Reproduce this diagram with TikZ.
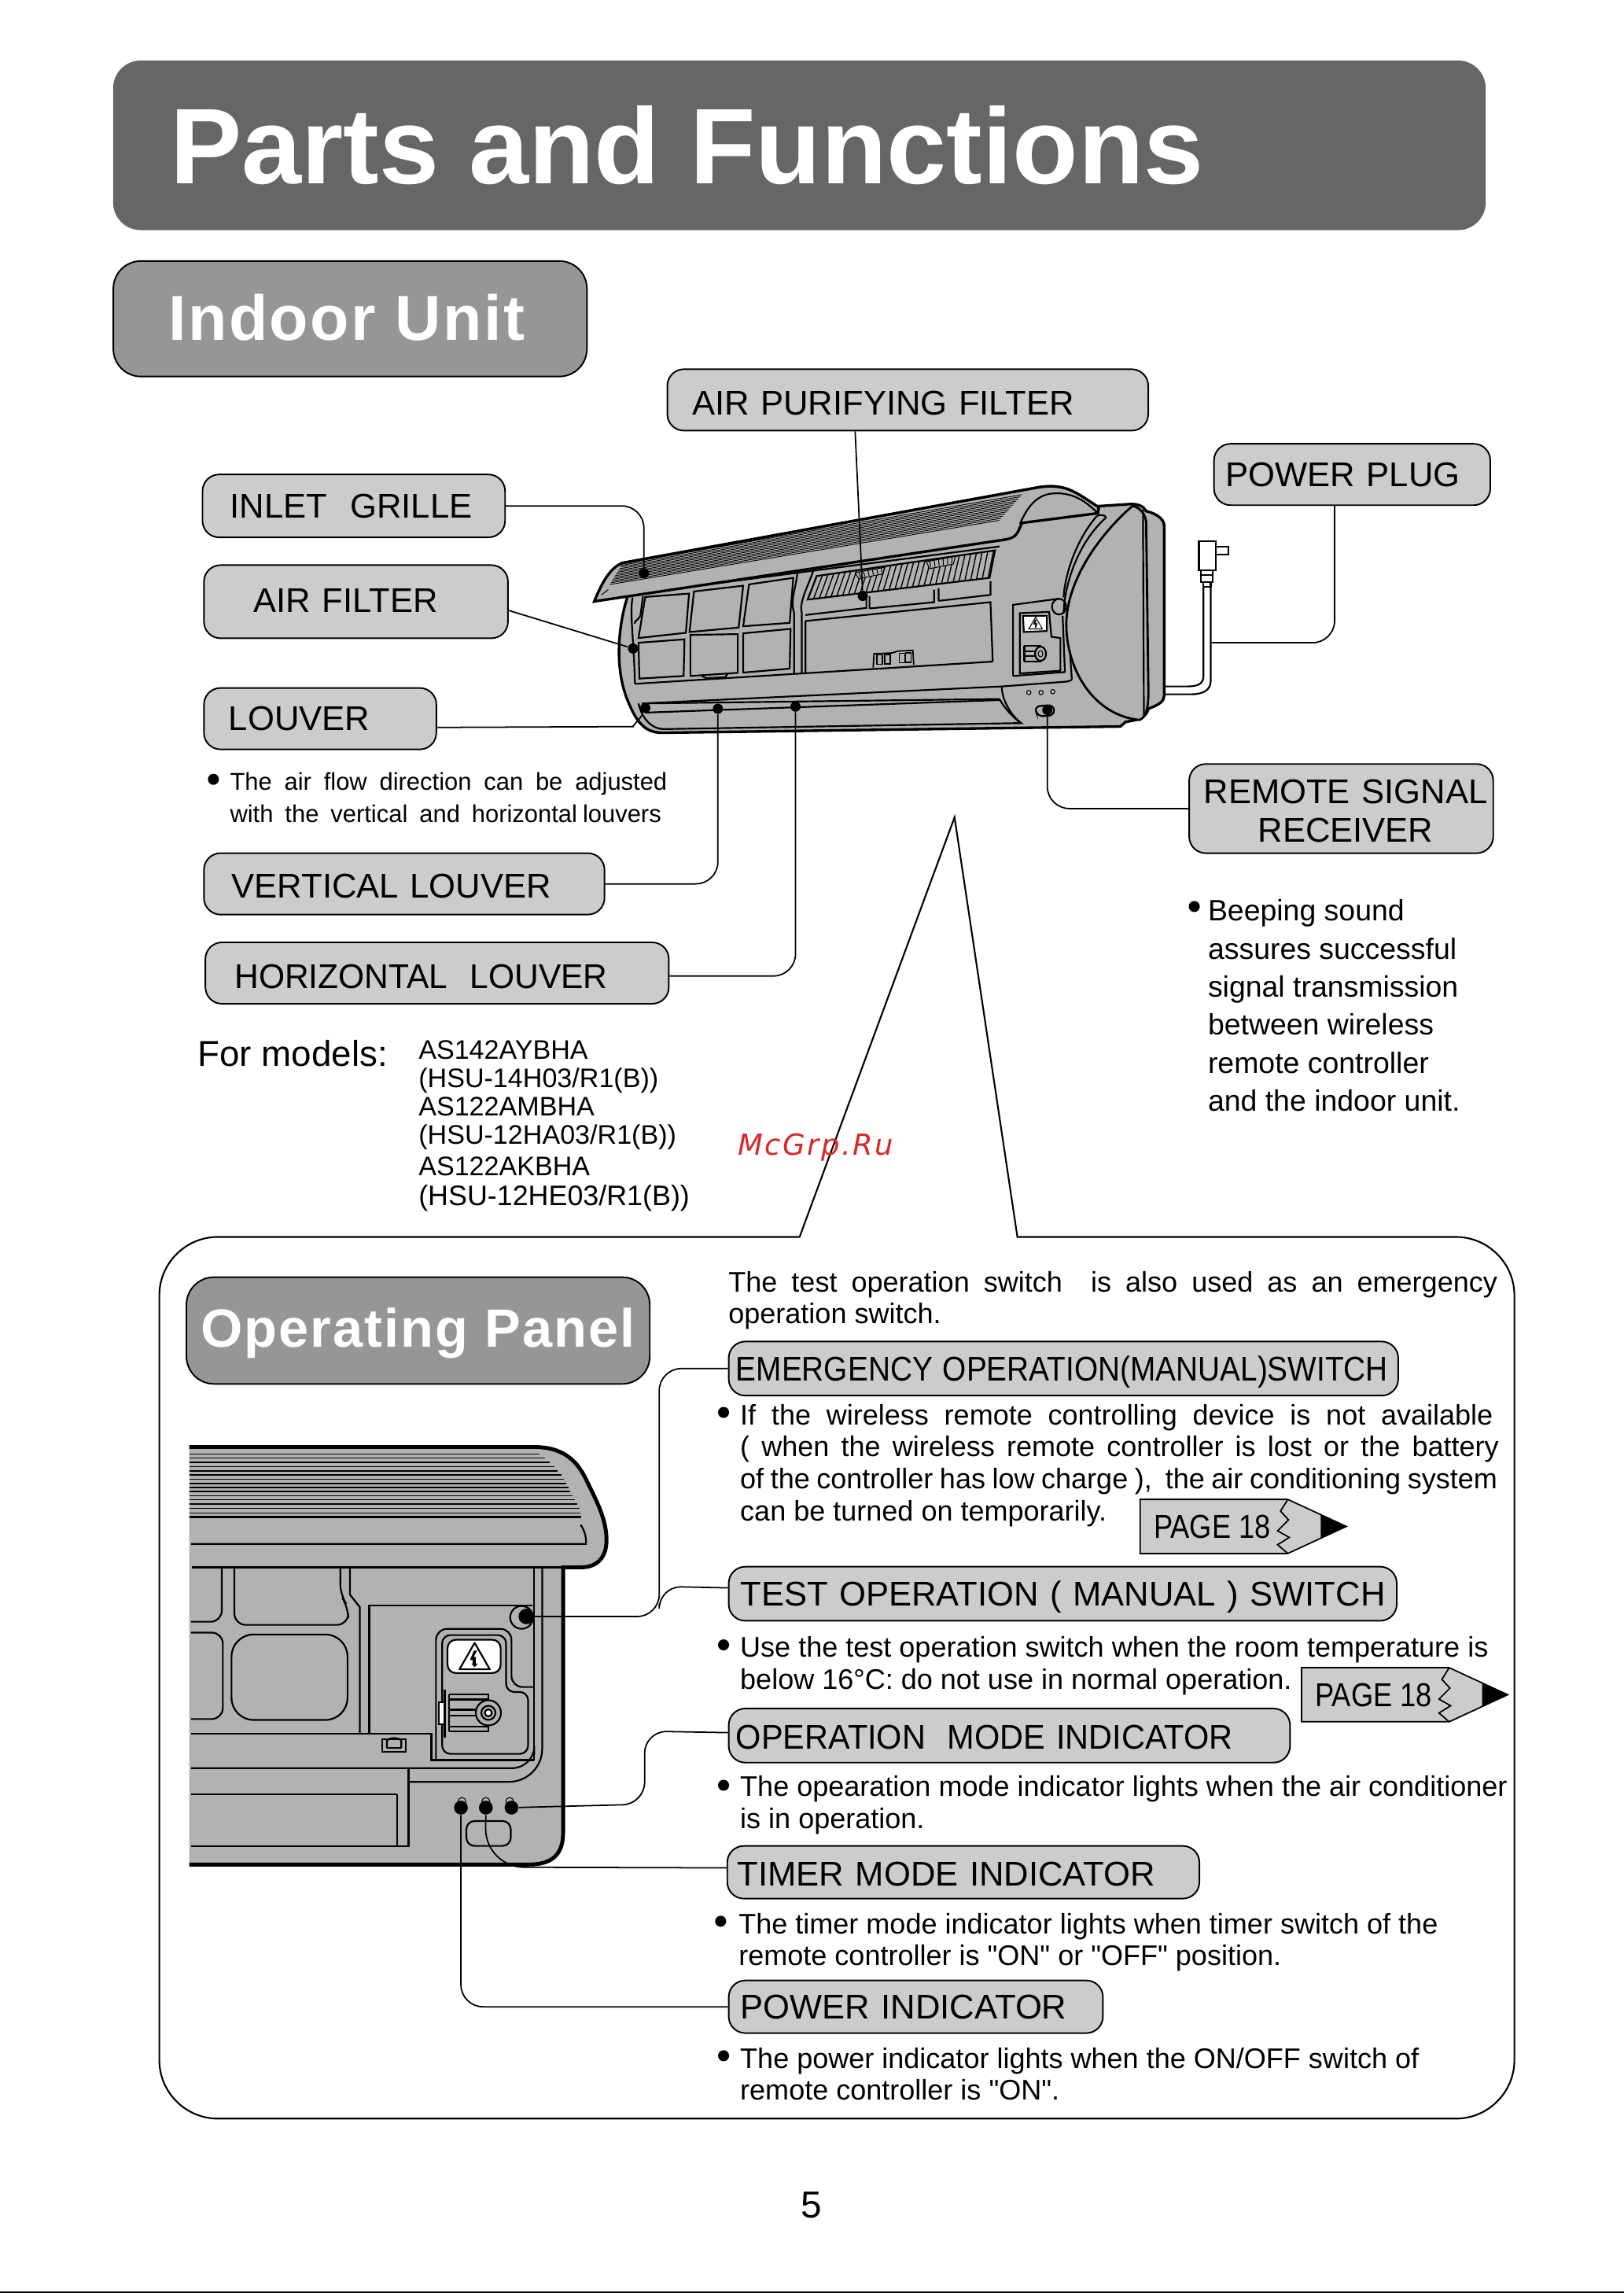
\documentclass[tikz,border=0pt]{standalone}
\usepackage{fontspec}
\usepackage{xcolor}
\setmainfont{Liberation Sans}
\newfontfamily\spacedface[LetterSpace=3]{Liberation Sans}
\newfontfamily\markface[LetterSpace=7]{DejaVu Sans}
\newfontfamily\quoteface{Liberation Sans}
\usetikzlibrary{
    arrows.meta,
    positioning,
    calc
}
\definecolor{bannerGray}{RGB}{102,102,102}
\definecolor{headGray}{RGB}{150,150,150}
\definecolor{tagGray}{RGB}{204,204,204}
\definecolor{unitGray}{RGB}{178,178,178}
\definecolor{markRed}{RGB}{218,40,40}
\newlength\unitlen
\setlength\unitlen{0.018587cm}
\newcommand\jl[2]{\makebox[#1\unitlen][s]{#2}}
\newcommand\qq{{\quoteface\symbol{34}}}
\tikzset{
  tag/.style n args = {3}{draw, line width=0.55pt, fill=tagGray, rounded corners=6pt,
                    anchor=north west, inner ysep=0pt, inner xsep=#3*\unitlen,
                    minimum height=#2*\unitlen, text width=(#1-2*#3)*\unitlen,
                    align=left, font=\fontsize{12.4}{13.9}\selectfont},
  head/.style    = {draw, line width=0.55pt, fill=headGray, rounded corners=10pt,
                    anchor=north west, text=white, inner sep=0pt},
  note/.style    = {anchor=north west, inner sep=0pt, align=left,
                    font=\fontsize{10.65}{13.75}\selectfont},
  pnote/.style   = {note, font=\fontsize{10.25}{11.6}\selectfont},
  bull/.style    = {circle, fill=black, inner sep=0pt, minimum size=4pt},
  spot/.style    = {circle, fill=black, inner sep=0pt, minimum size=3.7pt},
  lead/.style    = {line width=0.5pt, rounded corners=8pt},
  unit/.style    = {draw, line width=0.95pt, fill=unitGray},
  thinl/.style   = {line width=0.3pt},
  midl/.style    = {line width=0.62pt},
  heavy/.style   = {line width=1.4pt}
}

\begin{document}
\begin{tikzpicture}[x=0.018587cm, y=-0.018587cm]
  \useasboundingbox (0,0) rectangle (1111,1568.3);
  \draw[line width=0.6pt] (0,1567.6) -- (1111,1567.6);

  % ── BANNER ──
  \node[draw=none, fill=bannerGray, rounded corners=10pt, anchor=north west,
        minimum width=939*\unitlen, minimum height=116*\unitlen, inner sep=0pt] (T_box) at (77,41) {};
  \node[anchor=west, text=white, inner sep=0pt, font=\fontsize{38.9}{42}\selectfont\bfseries,
        right=39*\unitlen of T_box.west] (T_txt) {Parts and Functions};

  \node[head, minimum width=324*\unitlen, minimum height=79*\unitlen] (H_unit) at (77,178) {};
  \node[right=38*\unitlen of H_unit.west, yshift=0.5pt, inner sep=0pt, text=white,
        font=\fontsize{23}{26}\selectfont\spacedface\bfseries] (H_utxt) {Indoor Unit};

  % ── PANEL OUTLINE ──
  \draw[line width=0.6pt] (547,846) -- (653,559) -- (696,846) -- (996,846)
        .. controls (1018,846) and (1036,864) .. (1036,886) -- (1036,1409)
        .. controls (1036,1431) and (1018,1449) .. (996,1449) -- (149,1449)
        .. controls (127,1449) and (109,1431) .. (109,1409) -- (109,886)
        .. controls (109,864) and (127,846) .. (149,846) -- cycle;

  % ── UNIT ──
  \begin{scope}[shift={(387.4,312)}, x=0.00574cm, y=-0.003333cm]
    % plug and cord
    \draw[midl, fill=white] (1402,325) rectangle (1440,435);
    \draw[midl, fill=white] (1440,347) rectangle (1468,375);
    \draw[midl, fill=white] (1407,435) rectangle (1433,480);
    \draw[midl] (1407,455) -- (1433,455);
    \draw[midl, fill=white] (1412,480) rectangle (1428,500);
    \draw[midl] (1412,500) -- (1412,840) .. controls (1412,870) and (1400,880) .. (1375,880) -- (1320,880);
    \draw[midl] (1428,500) -- (1428,860) .. controls (1428,895) and (1410,910) .. (1385,910) -- (1320,910);
    % body
    \draw[unit] (135,540) .. controls (115,650) and (105,820) .. (140,950)
        .. controls (160,1030) and (180,1058) .. (215,1057) -- (1228,1033) -- (1240,1015)
        .. controls (1260,1010) and (1285,1005) .. (1290,965)
        .. controls (1315,950) and (1325,935) .. (1325,915) -- (1325,265)
        .. controls (1325,235) and (1300,215) .. (1285,210) .. controls (1280,190) and (1265,182) .. (1250,183)
        -- (1170,192) .. controls (1130,140) and (1110,105) .. (1050,118) -- (125,408) -- (135,540);
    \draw[midl] (160,945) .. controls (168,1005) and (190,1042) .. (215,1043) -- (1005,1020);
    % band and louver
    \draw[midl] (152,640) .. controls (148,630) and (165,625) .. (165,600) -- (170,535);
    \draw[midl] (147,540) .. controls (140,600) and (150,700) .. (152,870);
    \draw[midl] (152,870) -- (945,785);
    \draw[midl] (168,945) -- (965,880) -- (1105,862) .. controls (1118,860) and (1122,855) .. (1120,845) -- (1112,640);
    \draw[midl] (168,945) -- (960,928);
    \draw[midl] (175,980) -- (960,932);
    \draw[midl] (960,928) .. controls (970,960) and (990,1000) .. (1008,1020) -- (990,1020);
    \draw[midl] (965,880) .. controls (965,930) and (985,990) .. (1008,1020);
    % filter windows
    \draw[midl] (145,528) -- (960,345);
    \draw[midl] (175,538) -- (272,525) -- (265,675) -- (160,695) -- cycle;
    \draw[midl] (283,517) -- (392,495) -- (382,655) -- (273,672) -- cycle;
    \draw[midl] (405,490) -- (503,465) -- (495,637) -- (392,650) -- cycle;
    \draw[midl] (160,713) -- (262,700) -- (260,840) -- (162,850) -- cycle;
    \draw[midl] (275,683) -- (380,680) -- (380,828) -- (275,840) -- cycle;
    \draw[midl] (392,677) -- (497,660) -- (495,812) -- (392,827) -- cycle;
    \draw[midl] (300,840) -- (310,848) -- (352,845) -- (357,832);
    % divider
    \draw[midl] (512,445) .. controls (510,500) and (495,550) .. (505,600) -- (505,830);
    \draw[midl] (548,435) .. controls (535,500) and (515,560) .. (522,600) -- (522,830);
    % hatched intake
    \draw[midl] (555,458) -- (950,360) -- (938,465) -- (535,548) -- cycle;
    \foreach \t in {0,0.032,...,1.0}
      \draw[line width=0.4pt] ({555+395*\t},{458-98*\t}) -- ({535+403*\t},{548-83*\t});
    \draw[thinl, fill=unitGray] (640,445) -- (705,425) -- (702,450) -- (648,468) -- cycle;
    \draw[thinl, fill=unitGray] (798,403) -- (862,383) -- (858,412) -- (805,430) -- cycle;
    \foreach \s in {0,0.2,...,1.0} {
      \draw[thinl] ({648+50*\s},{441-14*\s}) -- ({652+48*\s},{463-14*\s});
      \draw[thinl] ({805+50*\s},{400-14*\s}) -- ({808+46*\s},{425-14*\s});
    }
    \draw[midl] (530,607) -- (665,580) -- (665,548) (672,582) -- (815,558) -- (815,510) (672,582) -- (672,535);
    \draw[midl] (825,553) -- (940,530) -- (940,478) (825,553) -- (825,505);
    \draw[midl] (530,630) -- (940,558) -- (945,785) (530,630) -- (530,828);
    % logo
    \draw[line width=0.5pt] (680,808) -- (682,755) -- (722,752) -- (735,745) -- (768,742) -- (770,797);
    \foreach \lx in {688,706,738,752}
      \draw[line width=0.5pt] (\lx,{795-(\lx-688)*0.11}) rectangle ++(12,-36);
    % control box
    \draw[midl] (990,840) -- (990,568) -- (1090,545) (990,840) -- (1105,825) -- (1100,610);
    \draw[midl] (1005,830) -- (1005,600) -- (1070,595) -- (1075,690) -- (1095,695) -- (1095,820) -- cycle;
    \draw[midl, fill=white] (1012,610) -- (1065,610) -- (1065,668) -- (1014,672) -- cycle;
    \draw[thinl] (1040,615) -- (1025,660) -- (1055,660) -- cycle;
    \draw[line width=0.6pt] (1040,625) -- (1037,640) -- (1042,640) -- (1040,655);
    \draw[midl] (1015,725) -- (1052,725) (1015,785) -- (1052,785) (1015,725) -- (1015,785) (1015,745) -- (1045,745) (1015,765) -- (1045,765);
    \draw[midl, fill=unitGray] (1051,755) ellipse [x radius=0.07cm, y radius=0.09cm];
    \draw[thinl] (1051,755) ellipse [x radius=0.03cm, y radius=0.04cm];
    \draw[midl, fill=unitGray] (1092,575) ellipse [x radius=0.09cm, y radius=0.1cm];
    \foreach \ix/\iy in {1025/903, 1052/903, 1078/900}
      \draw[thinl, fill=unitGray] (\ix,\iy) circle [radius=0.028cm];
    \draw[midl, rounded corners=2pt] (1037,957) -- (1080,950) -- (1082,990) -- (1045,995) -- cycle;
    % lid
    \draw[unit] (62,555) .. controls (75,500) and (95,425) .. (125,408) -- (1050,118)
        .. controls (1110,105) and (1130,140) .. (1180,195) -- (1178,218) -- (1010,255)
        .. controls (1000,290) and (1000,310) .. (975,318) -- cycle;
    \draw[midl] (1005,260) .. controls (1020,200) and (1040,150) .. (1075,143)
        .. controls (1120,135) and (1150,170) .. (1178,218);
    \foreach \i in {0,...,12}
      \draw[line width=0.26pt] ({125-2.4*\i},{410+6.7*\i}) -- ({1010-4.2*\i},{147+8.2*\i});
    \draw[thinl] (78,530) -- (93,510);
    % end cap
    \draw[unit, line width=0.8pt] (1255,190) .. controls (1200,270) and (1110,450) .. (1108,640)
        .. controls (1108,820) and (1170,990) .. (1270,1008)
        .. controls (1285,1000) and (1290,960) .. (1290,900) -- (1285,250)
        .. controls (1283,220) and (1270,195) .. (1255,190);
    \draw[midl] (1278,205) -- (1280,990);
    \draw[midl] (1196,235) .. controls (1140,320) and (1105,470) .. (1102,600);
    \draw[midl] (1176,228) .. controls (1185,222) and (1195,225) .. (1196,235);
    \draw[midl] (1176,228) .. controls (1130,320) and (1105,450) .. (1102,540);
    \node[spot] (D_inlet) at (172,447) {};
    \node[spot] (D_filter) at (148,735) {};
    \node[spot] (D_louver) at (175,962) {};
    \node[spot] (D_vert) at (336,965) {};
    \node[spot] (D_horz) at (508,957) {};
    \node[spot] (D_purify) at (657,534) {};
    \node[spot] (D_remote) at (1066,970) {};
    \coordinate (C_cord) at (1430,713);
  \end{scope}

  % ── PANEL UNIT ──
  \begin{scope}[shift={(118.36,968.4)}, x=0.00459cm, y=-0.003953cm]
    \fill[unitGray] (45,100) -- (1000,100) .. controls (1100,100) and (1130,170) .. (1150,220)
        .. controls (1180,290) and (1200,340) .. (1200,400) .. controls (1200,460) and (1170,487) .. (1130,487)
        -- (1080,487) -- (1080,1340) .. controls (1080,1410) and (1050,1443) .. (985,1443) -- (45,1443) -- cycle;
    \draw[heavy] (45,100) -- (1000,100) .. controls (1100,100) and (1130,170) .. (1150,220)
        .. controls (1180,290) and (1200,340) .. (1200,400) .. controls (1200,460) and (1170,487) .. (1130,487)
        -- (1080,487) -- (1080,1340) .. controls (1080,1410) and (1050,1443) .. (985,1443) -- (45,1443);
    \foreach \sy/\sx/\sw in {122/1015/0.4, 135/1030/0.4, 149/1042/0.7, 163/1055/0.4, 177/1065/0.7, 190/1075/0.4,
        203/1083/0.4, 217/1088/0.7, 230/1095/0.4, 243/1100/0.4, 257/1105/0.4, 270/1112/0.4,
        284/1118/0.7, 298/1125/0.4, 312/1128/0.4, 325/1130/0.7}
      \draw[line width=\sw pt] (45,\sy) -- (\sx,\sy);
    \draw[midl] (50,412) -- (1143,412) .. controls (1145,390) and (1138,365) .. (1128,350);
    \draw[midl] (52,487) -- (1080,487);
    % panel lines
    \draw[midl, rounded corners=4pt] (135,490) -- (135,662) -- (50,662);
    \draw[midl, rounded corners=4pt] (170,490) -- (170,672) -- (485,672) -- (485,615) -- (463,575) -- (463,490);
    \draw[midl] (490,490) -- (490,575) -- (517,615) -- (517,1020);
    \draw[midl] (543,1020) -- (543,610) -- (995,610);
    \draw[midl, rounded corners=8pt] (162,703) rectangle (483,978);
    \draw[midl, rounded corners=4pt] (50,697) -- (138,697) -- (138,975) -- (50,975);
    \draw[midl] (1000,490) -- (1000,1107);
    \draw[midl, rounded corners=12pt] (1022,490) -- (1022,1177) -- (652,1177);
    \draw[midl] (652,1135) -- (652,1383) -- (50,1383);
    \draw[midl] (620,1217) -- (620,1383) (50,1217) -- (620,1217);
    \draw[midl, rounded corners=8pt] (50,1133) -- (1000,1133) -- (1000,1090);
    \draw[midl] (50,1022) -- (715,1022) -- (715,1107) -- (1000,1107);
    \draw[midl, rounded corners=4pt] (728,1107) -- (728,685) -- (937,685) -- (937,872) -- (1000,872);
    \draw[midl, rounded corners=3pt] (745,1087) -- (745,705) -- (922,705) -- (922,888) -- (983,888) -- (983,1087) -- cycle;
    \draw[midl, fill=white, rounded corners=3pt] (760,720) rectangle (907,827);
    \draw[midl, line join=round] (835,730) -- (793,815) -- (877,815) -- cycle;
    \fill (833,755) -- (822,785) -- (830,785) -- (830,797) -- (826,797) -- (835,808) -- (844,797) -- (838,797) -- (838,775) -- (832,775) -- (842,755) -- cycle;
    \draw[midl] (765,895) -- (873,895) -- (873,915) (765,1015) -- (873,1015) -- (873,995) (765,895) -- (765,1015);
    \draw[midl] (765,912) -- (873,912) (765,945) -- (850,945) (765,965) -- (850,965) (765,1000) -- (873,1000);
    \draw[midl, fill=white] (735,920) rectangle (752,992);
    \draw[midl] (752,880) -- (752,1035);
    \foreach \cr/\cf in {0.16/unitGray, 0.09/unitGray, 0.045/white}
      \draw[midl, fill=\cf] (873,955) circle [radius=\cr cm];
    \draw[midl] (965,648) circle [radius=0.145cm];
    \draw[midl] (580,1080) rectangle (645,1040);
    \draw[midl] (592,1068) -- (592,1045) .. controls (600,1033) and (625,1033) .. (632,1045) -- (632,1068) (592,1068) -- (632,1068);
    \draw[midl, rounded corners=3pt] (812,1303) rectangle (935,1383);
    \foreach \ix in {800,866,932}
      \draw[thinl] (\ix,1240) circle [radius=0.05cm];
    \node[spot, minimum size=5.6pt] (D_emerg) at (978,645) {};
    \node[spot, minimum size=5pt] (D_power) at (797,1260) {};
    \node[spot, minimum size=5pt] (D_timer) at (866,1260) {};
    \node[spot, minimum size=5pt] (D_oper) at (937,1260) {};
  \end{scope}

  % ── TOP LABELS ──
  \node[tag={329}{42}{17}, text height=11pt] (L_purify) at (456,252) {AIR PURIFYING FILTER};
  \node[tag={189}{42}{8}] (L_plug) at (830,303) {POWER PLUG};
  \node[tag={207}{43}{19}] (L_inlet) at (138,324) {INLET\ \ GRILLE};
  \node[tag={208}{50}{34}, text height=8pt] (L_filter) at (139,386) {AIR FILTER};
  \node[tag={159}{42}{17}] (L_louver) at (139,470) {LOUVER};
  \node[tag={274}{42}{19}, text height=10pt] (L_vert) at (139,583) {VERTICAL LOUVER};
  \node[tag={317}{42}{20}, text height=11pt] (L_horz) at (140,644) {\scalebox{.976}[1]{HORIZONTAL\ \ LOUVER}};
  \node[tag={208}{61}{1}, align=center] (L_remote) at (813,522)
     {\hspace*{6\unitlen}\rule{0pt}{10.5pt}REMOTE SIGNAL\\\hspace*{6\unitlen}RECEIVER};

  \draw[lead] (L_inlet.east) -| (D_inlet);
  \draw[lead] ($(L_filter.east)+(0,6)$) -- (D_filter);
  \draw[lead] ($(L_louver.east)+(0,6)$) -- (418,497) .. controls (432,497) and (438,492) .. (D_louver);
  \draw[lead] (L_vert.east) -| (D_vert);
  \draw[lead] ($(L_horz.east)+(0,2)$) -| (D_horz);
  \draw[lead] ($(L_purify.south west)+(129,0)$) -- (D_purify);
  \draw[lead] ($(L_plug.south)+(-12,0)$) |- (C_cord);
  \draw[lead] (L_remote.west) -| (D_remote);

  % ── NOTES ──
  \node[bull] (B_louver) at (146,533) {};
  \node[pnote, font=\fontsize{8.8}{11.6}\selectfont] (N_louver) at (157,528)
     {\jl{299}{The air flow direction can be adjusted}\\\jl{295}{with the vertical and horizontal\kern2pt louvers}};
  \node[bull] (B_remote) at (817,620) {};
  \node[note] (N_remote) at (826,615)
     {Beeping sound\\assures successful\\signal transmission\\between wireless\\remote controller\\and the indoor unit.};

  \node[anchor=north west, inner sep=0pt, font=\fontsize{13}{15}\selectfont] (M_for) at (135,711) {For models:};
  \foreach \my/\mname/\mtxt in {711/a/AS142AYBHA, 730/b/{(HSU-14H03/R1(B))}, 750/c/AS122AMBHA,
      769/d/{(HSU-12HA03/R1(B))}, 791/e/AS122AKBHA, 810/f/{\fontsize{10.2}{11}\selectfont(HSU-12HE03/R1(B))}}
    \node[anchor=north west, inner sep=0pt, font=\fontsize{9.7}{11}\selectfont] (M_\mname) at (286,\my) {\mtxt};

  \node[anchor=center, inner sep=0pt, text=markRed, font=\fontsize{10.5}{13}\selectfont\markface\itshape] (W_mark) at (558,785) {McGrp.Ru};

  % ── OPERATING PANEL ──
  \node[head, minimum width=317*\unitlen, minimum height=73*\unitlen] (H_panel) at (127,873) {};
  \node[right=10*\unitlen of H_panel.west, yshift=-1pt, inner sep=0pt, text=white,
        font=\fontsize{19.5}{22}\selectfont\spacedface\bfseries] (H_ptxt) {Operating Panel};

  \node[pnote] (N_intro) at (498,869)
     {\jl{526}{The test operation switch\ \ is also used as an emergency}\\operation switch.};

  \node[tag={458}{37}{5}, text height=9pt, text depth=0pt] (P_emerg) at (498,917) {\mbox{\scalebox{.89}[1]{EMERGENCY OPERATION(MANUAL)SWITCH}}};
  \node[tag={457}{37}{8}, text height=9pt, text depth=0pt] (P_test) at (498,1071) {\mbox{TEST OPERATION ( MANUAL ) SWITCH}};
  \node[tag={384}{37}{5}, text height=10pt] (P_oper) at (498,1168) {\scalebox{.952}[1]{OPERATION\ \ MODE INDICATOR}};
  \node[tag={323}{36}{7}, text height=10pt] (P_timer) at (497,1262) {TIMER MODE INDICATOR};
  \node[tag={256}{36}{8}] (P_power) at (498,1354) {POWER INDICATOR};

  \draw[lead] (P_emerg.west) -- (451,936) -- (451,1105.6) -- (D_emerg);
  \draw[lead] ($(P_test.west)+(0,-4)$) -- (451,1085) -- (451,1097);
  \draw[lead] ($(P_oper.west)+(0,-2)$) -- (441,1184) -- (441,1234) -- (D_oper);
  \draw[lead, rounded corners=14pt] ($(P_timer.west)+(0,-3)$) -- (332,1277) -- (D_timer);
  \draw[lead] (D_power) |- (P_power.west);

  \node[bull] (B_emerg) at (495,966) {};
  \node[pnote] (N_emerg) at (506,960)
     {\jl{515}{If the wireless remote controlling device is not available}\\
      \jl{519}{( when the wireless remote controller is lost or the battery}\\
      \jl{518}{of the controller has low charge ),\ \ the air conditioning system}\\
      can be turned on temporarily.};
  \node[bull] (B_test) at (495,1125) {};
  \node[pnote] (N_test) at (506,1119)
     {Use the test operation switch when the room temperature is\\
      below 16°C: do not use in normal operation.};
  \node[bull] (B_oper) at (495,1221) {};
  \node[pnote] (N_oper) at (506,1214)
     {The opearation mode indicator lights when the air conditioner\\is in operation.};
  \node[bull] (B_timer) at (493,1314) {};
  \node[pnote] (N_timer) at (505,1308)
     {The timer mode indicator lights when timer switch of the\\remote controller is \qq ON\qq{} or \qq OFF\qq{} position.};
  \node[bull] (B_power) at (495,1406) {};
  \node[pnote] (N_power) at (506,1400)
     {The power indicator lights when the ON/OFF switch of\\remote controller is \qq ON\qq.};

  % ── PAGE POINTERS ──
  \foreach \px/\py/\pn in {780/1025.5/a, 890.4/1140.6/b} {
    \draw[line width=0.5pt, fill=tagGray] (\px,\py) -- ++(101,0) -- ++(40,18.5) -- ++(-40,18.5) -- ++(-101,0) -- cycle;
    \fill[black] ($(\px,\py)+(123.5,10.4)$) -- ++(17.5,8.1) -- ++(-17.5,8.1) -- cycle;
    \draw[line width=0.5pt] ($(\px,\py)+(101,0)$) -- ++(-5,8) -- ++(5.5,6) -- ++(-7.5,7.5) -- ++(8,4.5) -- ++(-8,5) -- ++(7,6);
    \node[anchor=west, inner sep=0pt, font=\fontsize{12}{14}\selectfont] (G_\pn) at ($(\px,\py)+(9,19)$) {\scalebox{.86}[1]{PAGE 18}};
  }

  \node[inner sep=0pt, font=\fontsize{13.6}{15}\selectfont] (F_page) at (555,1508) {5};
\end{tikzpicture}
\end{document}
